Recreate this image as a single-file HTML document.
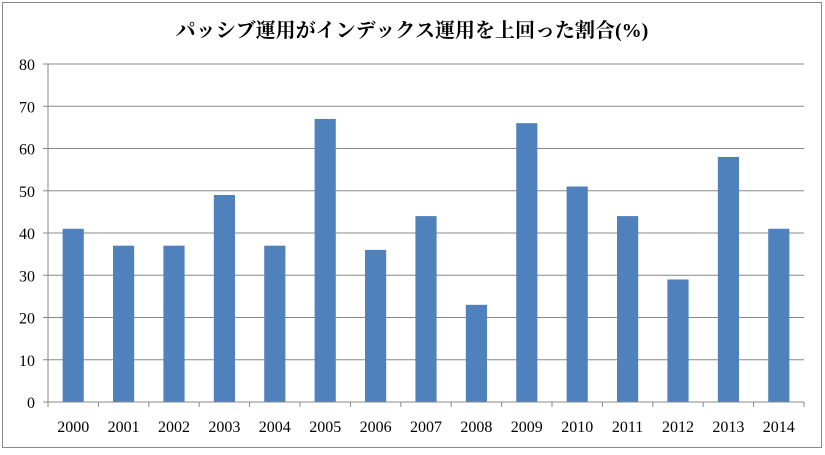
<!DOCTYPE html>
<html><head><meta charset="utf-8"><style>
body{margin:0;background:#fff}
svg text{font-family:"Liberation Serif","Noto Serif CJK SC",serif}
</style></head><body>
<svg width="825" height="450">
<rect x="2.5" y="2.5" width="819" height="445" fill="#fff" stroke="#888"/>
<text x="412" y="37" text-anchor="middle" font-size="20" font-weight="bold">パッシブ運用がインデックス運用を上回った割合(%)</text>
<g id="grid"></g><g id="bars"></g><g id="axes"></g>
</svg>
<script>
const categories=["2000","2001","2002","2003","2004","2005","2006","2007","2008","2009","2010","2011","2012","2013","2014"];
const values=[41,37,37,49,37,67,36,44,23,66,51,44,29,58,41];
const yTicks=[0,10,20,30,40,50,60,70,80];
const L=48,R=804,T=64,B=402,ymax=80;
const ns="http://www.w3.org/2000/svg";
const y=v=>B-(v/ymax)*(B-T);
const bw=(R-L)/categories.length;
const x=i=>L+i*bw;
function mk(tag,attrs,parent){const e=document.createElementNS(ns,tag);for(const k in attrs)e.setAttribute(k,attrs[k]);document.getElementById(parent).appendChild(e);return e;}
yTicks.forEach(t=>{
 if(t>0){const g=mk('line',{x1:L,x2:R,y1:y(t),y2:y(t),stroke:'#888','stroke-width':1},'grid');
 
 }
 const tx=mk('text',{x:L-13,y:y(t)+6,'text-anchor':'end','font-size':16},'axes');tx.textContent=t;
 
 
 mk('line',{x1:L-5,x2:L,y1:y(t),y2:y(t),stroke:'#888'},'axes');
});
values.forEach((v,i)=>{
 const w=bw*0.42;
 const r=mk('rect',{x:x(i)+(bw-w)/2,y:y(v),width:w,height:B-y(v),fill:'#4f81bd'},'bars');
 
 
});
categories.forEach((c,i)=>{
 const t=mk('text',{x:x(i)+bw/2,y:B+30,'text-anchor':'middle','font-size':16},'axes');t.textContent=c;
 
 
});
for(let i=0;i<=categories.length;i++){mk('line',{x1:x(i),x2:x(i),y1:B,y2:B+5,stroke:'#888'},'axes');}
const ya=mk('line',{x1:L,x2:L,y1:T,y2:B,stroke:'#888'},'axes');


const xa=mk('line',{x1:L,x2:R,y1:B,y2:B,stroke:'#888'},'axes');


</script>
</body></html>
